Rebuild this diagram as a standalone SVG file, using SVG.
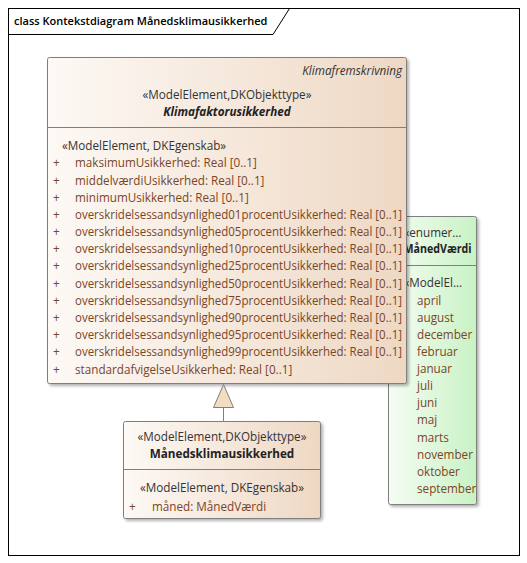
<svg xmlns="http://www.w3.org/2000/svg" width="527" height="563" viewBox="0 0 527 563">
<defs>
<linearGradient id="gPeach" x1="0" y1="0" x2="1" y2="0">
<stop offset="0" stop-color="#fdf9f5"/>
<stop offset="1" stop-color="#eed8c4"/>
</linearGradient>
<linearGradient id="gGreen" x1="0" y1="0" x2="1" y2="0">
<stop offset="0" stop-color="#f6fdf4"/>
<stop offset="1" stop-color="#c8f2c4"/>
</linearGradient>
<filter id="sh" x="-5%" y="-5%" width="115%" height="115%">
<feDropShadow dx="2" dy="2" stdDeviation="1.5" flood-color="#000" flood-opacity="0.3"/>
</filter>
</defs>
<style>
text{font-family:"Open Sans","Noto Sans","Liberation Sans",sans-serif;font-size:11.7px;}
.st{fill:#333;}
.nm{fill:#222;font-weight:bold;}
.at{fill:#7a4526;}
.pl{fill:#7a4526;}
.box{stroke:#7f7f7f;stroke-width:1;}
.sep{stroke:#7f7f7f;stroke-width:1;}
</style>
<rect x="0" y="0" width="527" height="563" fill="#ffffff"/>
<g id="frame">
<rect x="8.5" y="8.5" width="511" height="547" fill="none" stroke="#000" stroke-width="1"/>
<path d="M8.5 34.5 H273 L289.5 8.5" fill="none" stroke="#000" stroke-width="1"/>
<text x="14" y="25" style="font-weight:600;font-size:11px" fill="#000">class Kontekstdiagram Månedsklimausikkerhed</text>
</g>
<g id="MaanedVaerdi">
<rect class="box" x="388.5" y="216.5" width="88" height="288" rx="2" fill="url(#gGreen)" filter="url(#sh)"/>
<line class="sep" x1="388.5" y1="265.5" x2="476.5" y2="265.5"/>
<text class="st" x="403.5" y="237">«enumer…</text>
<text class="nm" x="403.5" y="253" textLength="68" lengthAdjust="spacingAndGlyphs">MånedVærdi</text>
<text class="st" x="403.5" y="287">«ModelEl…</text>
<text class="pl" x="417" y="305">april</text>
<text class="pl" x="417" y="322">august</text>
<text class="pl" x="417" y="339">december</text>
<text class="pl" x="417" y="356">februar</text>
<text class="pl" x="417" y="373">januar</text>
<text class="pl" x="417" y="390">juli</text>
<text class="pl" x="417" y="407">juni</text>
<text class="pl" x="417" y="424">maj</text>
<text class="pl" x="417" y="442">marts</text>
<text class="pl" x="417" y="459">november</text>
<text class="pl" x="417" y="476">oktober</text>
<text class="pl" x="417" y="493">september</text>
</g>
<g id="Klimafaktorusikkerhed">
<rect class="box" x="47.5" y="57.5" width="359" height="326" rx="2" fill="url(#gPeach)" filter="url(#sh)"/>
<line class="sep" x1="47.5" y1="127.5" x2="406.5" y2="127.5"/>
<text class="st" x="402" y="75" text-anchor="end" font-style="italic">Klimafremskrivning</text>
<text class="st" x="227" y="99" text-anchor="middle">«ModelElement,DKObjekttype»</text>
<text class="nm" x="227" y="116" text-anchor="middle" font-style="italic">Klimafaktorusikkerhed</text>
<text class="st" x="62" y="150">«ModelElement, DKEgenskab»</text>
<g class="at">
<text x="53" y="167">+</text><text x="75" y="167">maksimumUsikkerhed: Real [0..1]</text>
<text x="53" y="185">+</text><text x="75" y="185">middelværdiUsikkerhed: Real [0..1]</text>
<text x="53" y="202">+</text><text x="75" y="202">minimumUsikkerhed: Real [0..1]</text>
<text x="53" y="219">+</text><text x="75" y="219" textLength="327" lengthAdjust="spacingAndGlyphs">overskridelsessandsynlighed01procentUsikkerhed: Real [0..1]</text>
<text x="53" y="236">+</text><text x="75" y="236" textLength="327" lengthAdjust="spacingAndGlyphs">overskridelsessandsynlighed05procentUsikkerhed: Real [0..1]</text>
<text x="53" y="253">+</text><text x="75" y="253" textLength="327" lengthAdjust="spacingAndGlyphs">overskridelsessandsynlighed10procentUsikkerhed: Real [0..1]</text>
<text x="53" y="270">+</text><text x="75" y="270" textLength="327" lengthAdjust="spacingAndGlyphs">overskridelsessandsynlighed25procentUsikkerhed: Real [0..1]</text>
<text x="53" y="288">+</text><text x="75" y="288" textLength="327" lengthAdjust="spacingAndGlyphs">overskridelsessandsynlighed50procentUsikkerhed: Real [0..1]</text>
<text x="53" y="305">+</text><text x="75" y="305" textLength="327" lengthAdjust="spacingAndGlyphs">overskridelsessandsynlighed75procentUsikkerhed: Real [0..1]</text>
<text x="53" y="322">+</text><text x="75" y="322" textLength="327" lengthAdjust="spacingAndGlyphs">overskridelsessandsynlighed90procentUsikkerhed: Real [0..1]</text>
<text x="53" y="339">+</text><text x="75" y="339" textLength="327" lengthAdjust="spacingAndGlyphs">overskridelsessandsynlighed95procentUsikkerhed: Real [0..1]</text>
<text x="53" y="356">+</text><text x="75" y="356" textLength="327" lengthAdjust="spacingAndGlyphs">overskridelsessandsynlighed99procentUsikkerhed: Real [0..1]</text>
<text x="53" y="374">+</text><text x="75" y="374">standardafvigelseUsikkerhed: Real [0..1]</text>
</g>
</g>
<g id="Maanedsklimausikkerhed">
<rect class="box" x="123.5" y="421.5" width="197" height="97" rx="2" fill="url(#gPeach)" filter="url(#sh)"/>
<line class="sep" x1="123.5" y1="469.5" x2="320.5" y2="469.5"/>
<text class="st" x="222" y="441" text-anchor="middle">«ModelElement,DKObjekttype»</text>
<text class="nm" x="222" y="458" text-anchor="middle">Månedsklimausikkerhed</text>
<text class="st" x="222" y="492" text-anchor="middle">«ModelElement, DKEgenskab»</text>
<text class="at" x="129" y="511">+</text>
<text class="at" x="152" y="511">måned: MånedVærdi</text>
</g>
<g id="connectors">
<line x1="223.5" y1="407" x2="223.5" y2="421" stroke="#7f7f7f" stroke-width="1"/>
<path d="M223.5 384.5 L213.5 407.5 H233.5 Z" fill="#f3dcbf" stroke="#7f7f7f" stroke-width="1"/>
</g>
</svg>
